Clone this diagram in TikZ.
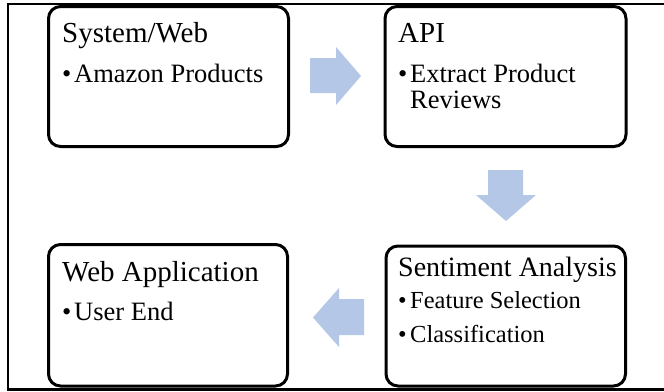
\documentclass[tikz,border=0pt]{standalone}
\usepackage{fontspec}
\setmainfont{Liberation Serif}
\definecolor{flowblue}{RGB}{180,199,231}
\newcommand{\titlesize}{\fontsize{29}{29}\selectfont}
\newcommand{\itemsize}{\fontsize{26.5}{26.5}\selectfont}
\newcommand{\bul}{\makebox[12pt][l]{•}}
\begin{document}
\begin{tikzpicture}[x=1pt,y=-1pt,
  stage/.style={draw=black,line width=3pt,rounded corners=12pt},
  title/.style={anchor=base west,inner sep=0pt,font=\titlesize},
  item/.style={anchor=base west,inner sep=0pt,font=\itemsize},
  flow/.style={fill=flowblue,draw=none}]
\useasboundingbox (0,0) rectangle (664,391);
% outer frame (open on the right)
\draw[line width=2.5pt] (664,4) -- (8,4) -- (8,389.5) -- (664,389.5);
% process stages
\draw[stage] (48.5,6.5) rectangle (288.5,146.5);
\draw[stage] (385,6.5) rectangle (626,146.5);
\draw[stage] (386,246) rectangle (625.5,386);
\draw[stage] (48.5,244.5) rectangle (287.5,386);
% stage texts
\node[title] (t1) at (62,42) {System/Web};
\node[item] (i1) at (62,82) {\bul Amazon Products};
\node[title] (t2) at (398,42) {API};
\node[item] (i2) at (398,82) {\bul Extract Product};
\node[item] (i2b) at (410,108.5) {Reviews};
\node[title,font=\fontsize{28}{28}\selectfont] (t3) at (398,276) {Sentiment Analysis};
\node[item,font=\fontsize{24.5}{24.5}\selectfont] (i3) at (398,308) {\bul Feature Selection};
\node[item,font=\fontsize{24.5}{24.5}\selectfont] (i3b) at (398,342) {\bul Classification};
\node[title] (t4) at (62,281.5) {Web Application};
\node[item] (i4) at (62,320) {\bul User End};
% flow arrows between the stages
\fill[flow] (310,58) -- (336,58) -- (336,47) -- (361,76) -- (336,105) -- (336,93) -- (310,93) -- cycle;
\fill[flow] (488,170) -- (523,170) -- (523,195) -- (536,195) -- (506,221) -- (476,195) -- (488,195) -- cycle;
\fill[flow] (364,299) -- (339,299) -- (339,288) -- (313,317.5) -- (339,347) -- (339,335) -- (364,335) -- cycle;
\end{tikzpicture}
\end{document}
